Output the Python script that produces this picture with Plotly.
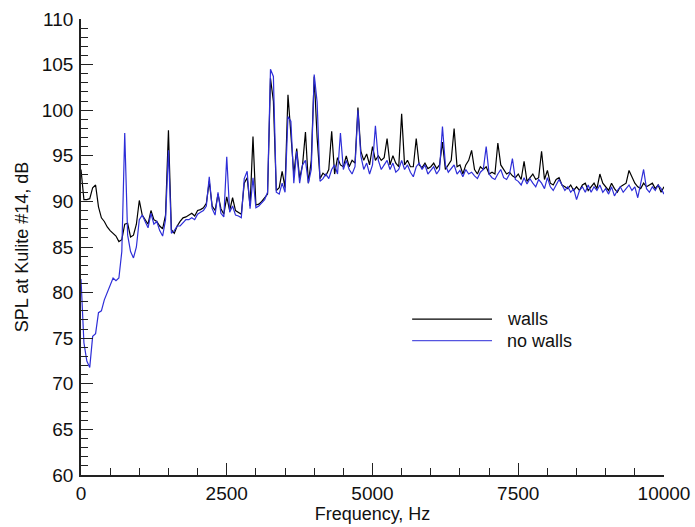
import plotly.graph_objects as go

# Frequency grid (Hz), 50 Hz spacing
freq = [i * 50 for i in range(201)]

walls = [
    93.5, 90.2, 90.2, 90.3, 91.5, 91.8, 89.4, 88.2, 87.8, 87.2,   # 0-450
    86.8, 86.5, 86.2, 85.6, 85.8, 87.5, 87.6, 86.1, 86.3, 87.5,   # 500-950
    90.1, 88.5, 88.0, 87.5, 89.0, 88.0, 87.8, 87.3, 87.0, 88.5,   # 1000-1450
    97.8, 86.9, 86.5, 87.3, 87.8, 88.2, 88.3, 88.5, 88.7, 88.4,   # 1500-1950
    89.0, 89.1, 89.3, 89.8, 92.2, 89.5, 89.0, 90.8, 89.2, 88.6,   # 2000-2450
    90.5, 89.0, 90.4, 89.0, 88.8, 88.6, 92.0, 92.6, 89.5, 97.1,   # 2500-2950
    89.6, 89.7, 90.0, 90.4, 90.8, 103.5, 101.0, 91.2, 91.5, 93.3, # 3000-3450
    91.5, 101.7, 97.5, 93.0, 95.8, 92.5, 94.0, 97.6, 92.0, 94.5,  # 3500-3950
    103.7, 97.0, 92.5, 93.1, 92.8, 93.5, 97.7, 93.0, 94.8, 94.0,  # 4000-4450
    93.8, 95.0, 93.8, 94.5, 94.2, 100.3, 95.5, 94.5, 95.2, 94.0,  # 4500-4950
    96.0, 94.5, 95.0, 94.5, 94.8, 96.9, 94.0, 95.0, 94.2, 93.8,   # 5000-5450
    99.6, 94.0, 94.5, 93.8, 93.8, 96.9, 94.0, 93.7, 94.2, 93.6,   # 5500-5950
    93.8, 94.2, 93.6, 94.0, 96.5, 93.5, 94.0, 94.5, 98.0, 93.8,   # 6000-6450
    94.0, 93.0, 94.0, 94.5, 95.6, 93.5, 93.0, 93.8, 93.5, 93.8,   # 6500-6950
    93.0, 93.2, 93.0, 96.4, 94.0, 93.5, 93.0, 93.2, 92.8, 92.6,   # 7000-7450
    93.0, 92.4, 94.4, 92.2, 92.6, 93.0, 92.4, 92.6, 95.5, 92.4,   # 7500-7950
    93.4, 92.0, 91.8, 92.4, 92.6, 91.8, 91.6, 91.4, 91.8, 91.2,   # 8000-8450
    91.6, 91.2, 91.8, 92.0, 91.2, 91.6, 92.0, 91.4, 93.0, 92.0,   # 8500-8950
    91.6, 91.2, 92.0, 91.4, 91.0, 91.6, 91.8, 92.0, 93.4, 92.6,   # 9000-9450
    92.0, 91.6, 91.4, 92.0, 91.6, 91.8, 92.0, 91.4, 91.8, 91.0,   # 9500-9950
    91.6,                                                          # 10000
]

no_walls = [
    81.5, 74.5, 72.5, 71.8, 75.2, 75.5, 77.8, 78.0, 79.2, 80.0,   # 0-450
    80.8, 81.6, 81.3, 81.6, 84.5, 97.5, 86.3, 84.5, 83.8, 85.0,   # 500-950
    88.0, 88.5, 87.8, 87.1, 88.7, 87.5, 87.8, 86.8, 86.2, 88.0,   # 1000-1450
    95.6, 86.5, 86.8, 87.3, 87.3, 87.6, 88.0, 88.0, 88.2, 88.0,   # 1500-1950
    88.6, 88.8, 89.0, 89.5, 92.7, 89.2, 88.5, 91.0, 88.7, 88.3,   # 2000-2450
    94.9, 88.8, 89.5, 88.5, 88.4, 88.2, 92.5, 93.3, 89.2, 92.6,   # 2500-2950
    89.3, 89.5, 89.8, 90.2, 91.0, 104.5, 103.7, 91.0, 90.8, 92.0, # 3000-3450
    91.0, 99.3, 98.8, 92.0, 95.5, 92.0, 94.0, 94.5, 92.0, 93.5,   # 3500-3950
    103.9, 100.9, 92.2, 92.5, 93.0, 92.5, 93.5, 94.0, 93.0, 97.5, # 4000-4450
    93.5, 94.5, 93.5, 93.0, 93.8, 100.0, 95.0, 93.5, 94.2, 93.0,  # 4500-4950
    94.0, 98.3, 94.5, 93.5, 94.0, 94.5, 93.5, 94.2, 93.2, 93.5,   # 5000-5450
    94.5, 93.5, 94.0, 93.2, 92.7, 93.8, 94.2, 93.5, 94.0, 93.0,   # 5500-5950
    93.4, 93.8, 93.0, 93.5, 98.2, 94.0, 93.2, 93.6, 94.0, 93.0,   # 6000-6450
    93.4, 92.7, 93.5, 93.0, 93.2, 92.8, 92.5, 93.2, 93.5, 96.0,   # 6500-6950
    93.0, 92.6, 92.4, 93.0, 93.5, 92.6, 92.4, 93.0, 94.7, 92.4,   # 7000-7450
    92.2, 91.8, 92.6, 91.9, 92.5, 92.0, 91.6, 92.4, 92.0, 91.4,   # 7500-7950
    92.6, 91.6, 91.2, 91.8, 92.4, 91.8, 91.2, 91.6, 91.0, 91.4,   # 8000-8450
    90.2, 91.2, 91.6, 91.0, 91.8, 91.0, 91.6, 91.2, 91.8, 91.0,   # 8500-8950
    91.4, 90.8, 91.6, 90.6, 91.2, 91.6, 91.0, 91.4, 91.8, 91.2,   # 9000-9450
    91.6, 90.4, 91.8, 93.5, 91.4, 91.0, 91.6, 91.2, 91.8, 91.4,   # 9500-9950
    90.8,                                                          # 10000
]

x_ticks = [0, 2500, 5000, 7500, 10000]
y_ticks = [60, 65, 70, 75, 80, 85, 90, 95, 100, 105, 110]

BLACK = "#000000"
BLUE = "#2e2ed8"
FONT = "Arial, Liberation Sans, sans-serif"

fig = go.Figure()
fig.add_trace(go.Scatter(x=freq, y=walls, mode="lines", name="walls",
                         line=dict(color=BLACK, width=1.2), showlegend=False))
fig.add_trace(go.Scatter(x=freq, y=no_walls, mode="lines", name="no walls",
                         line=dict(color=BLUE, width=1.2), showlegend=False))

# Legend drawn as lines + text
legend_items = [("walls", BLACK, 0.342), ("no walls", "#5555e0", 0.2945)]
for label, col, yy in legend_items:
    fig.add_shape(type="line", xref="paper", yref="paper",
                  x0=0.568, x1=0.705, y0=yy, y1=yy,
                  line=dict(color=col, width=1.3))
    fig.add_annotation(text=label, xref="paper", yref="paper",
                       x=0.727, y=yy, xanchor="left", yanchor="middle",
                       showarrow=False, font=dict(family=FONT, size=18, color="#111111"))

axis_common = dict(
    showgrid=False, zeroline=False, showline=True, linecolor="#222222", linewidth=1.6,
    ticks="inside", ticklen=12, tickwidth=1.3, tickcolor="#222222",
    tickfont=dict(family=FONT, size=19, color="#111111"),
    mirror=False, automargin=False,
)

fig.update_layout(
    width=695, height=527,
    margin=dict(l=81, r=31, t=19, b=52),
    paper_bgcolor="white", plot_bgcolor="white",
    xaxis=dict(range=[0, 10000], tickvals=x_ticks, ticktext=[str(v) for v in x_ticks],
               minor=dict(dtick=500, ticks="inside", ticklen=7, tickwidth=1.2, tickcolor="#222222"),
               title=dict(text="Frequency, Hz", font=dict(family=FONT, size=18, color="#111111"), standoff=0),
               **axis_common),
    yaxis=dict(range=[60, 110], tickvals=y_ticks, ticktext=[str(v) for v in y_ticks],
               minor=dict(dtick=1, ticks="inside", ticklen=7, tickwidth=1.2, tickcolor="#222222"),
               ticklabelstandoff=2,
               title=dict(text="SPL at Kulite #14, dB", font=dict(family=FONT, size=18, color="#111111"), standoff=8),
               **axis_common),
)

# remove the browser's default body margin so the figure fills the window exactly
fig.write_html("out.html",
               config={"displayModeBar": False},
               post_script="document.body.style.margin='0';document.body.style.overflow='hidden';")
